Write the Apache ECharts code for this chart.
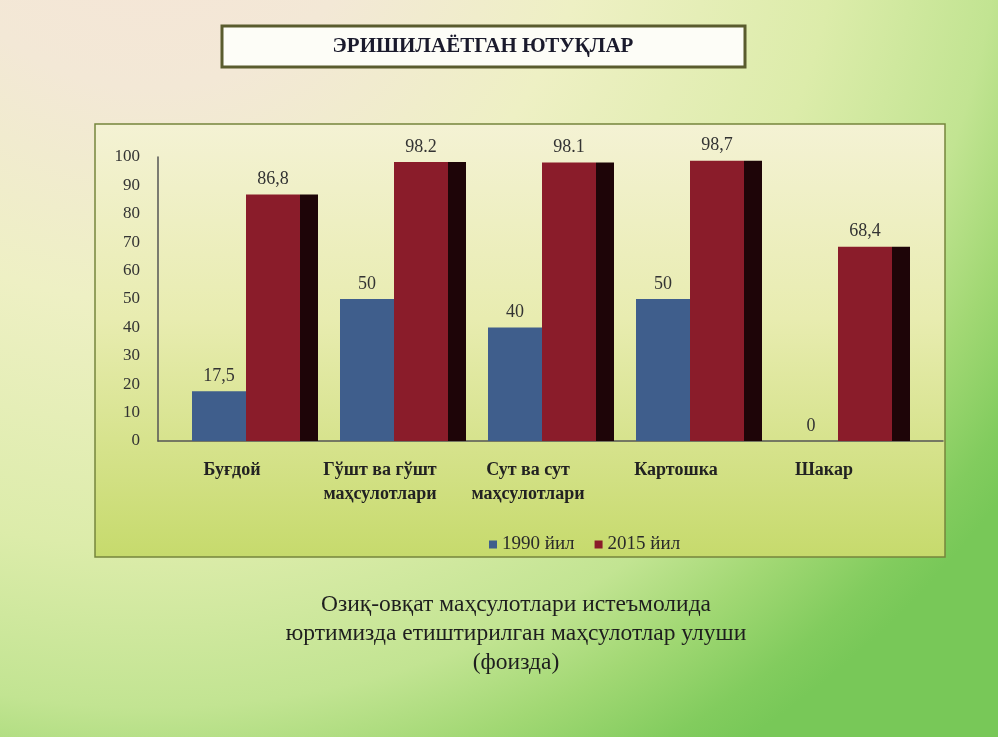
<!DOCTYPE html>
<html>
<head>
<meta charset="utf-8">
<script src="https://cdn.jsdelivr.net/npm/echarts@6/dist/echarts.min.js"></script>
<style>
html,body{margin:0;padding:0;}
#c{width:998px;height:737px;}
</style>
</head>
<body>
<div id="c"></div>
<script>
var categories = ['Буғдой', 'Гўшт ва гўшт\nмаҳсулотлари', 'Сут ва сут\nмаҳсулотлари', 'Картошка', 'Шакар'];
var values1990 = [17.5, 50, 40, 50, 0];
var values2015 = [86.8, 98.2, 98.1, 98.7, 68.4];
var labels1990 = ['17,5', '50', '40', '50', '0'];
var labels2015 = ['86,8', '98.2', '98.1', '98,7', '68,4'];
var seriesNames = ['1990 йил', '2015 йил'];
var yTicks = [0, 10, 20, 30, 40, 50, 60, 70, 80, 90, 100];
var titleText = 'ЭРИШИЛАЁТГАН ЮТУҚЛАР';
var captionText = 'Озиқ-овқат маҳсулотлари истеъмолида\nюртимизда етиштирилган маҳсулотлар улуши\n(фоизда)';

var FONT = '"Liberation Serif", "DejaVu Serif", serif';
var chart = echarts.init(document.getElementById('c'));
var yMin = yTicks[0], yMax = yTicks[yTicks.length - 1], yStep = yTicks[1] - yTicks[0];

var option = {
  backgroundColor: {
    type: 'radial', x: 0.15, y: -0.2, r: 1.45,
    colorStops: [
      {offset: 0, color: '#f6e4d8'},
      {offset: 0.22, color: '#f3e8d6'},
      {offset: 0.42, color: '#eef0c4'},
      {offset: 0.65, color: '#dcecaa'},
      {offset: 0.8, color: '#c2e492'},
      {offset: 0.88, color: '#a2d874'},
      {offset: 0.96, color: '#82cc5e'},
      {offset: 1, color: '#78c858'}
    ]
  },
  animation: false,
  graphic: [
    {
      type: 'rect', z: -10, silent: true,
      shape: {x: 95, y: 124, width: 850, height: 433},
      style: {
        fill: {type: 'linear', x: 0, y: 0, x2: 0, y2: 1, colorStops: [
          {offset: 0, color: '#f4f2d4'},
          {offset: 0.45, color: '#e8ecb0'},
          {offset: 1, color: '#c6da6c'}
        ]},
        stroke: '#75853c', lineWidth: 1.5
      }
    },
    {
      type: 'rect', silent: true,
      shape: {x: 222, y: 26, width: 523, height: 41},
      style: {fill: '#fdfdf7', stroke: '#5a5c2e', lineWidth: 3}
    },
    {
      type: 'text', silent: true, x: 483, y: 47,
      style: {text: titleText, fill: '#1a1a2c', font: 'bold 21px ' + FONT, textAlign: 'center', textVerticalAlign: 'middle'}
    },
    {
      type: 'text', silent: true, x: 516, y: 634,
      style: {text: captionText, fill: '#1e1e1e', font: '23.5px ' + FONT, lineHeight: 29, textAlign: 'center', textVerticalAlign: 'middle'}
    }
  ],
  legend: {
    left: 484, top: 530,
    itemWidth: 8, itemHeight: 8, itemGap: 20, icon: 'rect',
    textStyle: {fontFamily: FONT, fontSize: 19, color: '#2a2a2a'},
    data: [
      {name: seriesNames[0], itemStyle: {color: '#3f5e8c'}},
      {name: seriesNames[1], itemStyle: {color: '#8a1c2a'}}
    ]
  },
  grid: [
    {left: 158, right: 100, top: 157, bottom: 296},
    {left: 181, right: 77, top: 157, bottom: 296},
    {left: 158, right: 55, top: 157, bottom: 296}
  ],
  xAxis: [
    {
      type: 'category', gridIndex: 0, data: categories,
      axisLine: {show: false}, axisTick: {show: false},
      axisLabel: {margin: 17, fontFamily: FONT, fontSize: 18, fontWeight: 'bold', color: '#222', lineHeight: 24, interval: 0}
    },
    {type: 'category', gridIndex: 1, data: categories, show: false},
    {
      type: 'category', gridIndex: 2, data: categories,
      axisLine: {show: true, lineStyle: {color: '#555', width: 1.5}},
      axisTick: {show: false}, axisLabel: {show: false}
    }
  ],
  yAxis: [
    {
      type: 'value', gridIndex: 0, min: yMin, max: yMax, interval: yStep,
      axisLine: {show: true, lineStyle: {color: '#555', width: 1.5}},
      axisTick: {show: false}, splitLine: {show: false},
      axisLabel: {margin: 18, fontFamily: FONT, fontSize: 17, color: '#333'}
    },
    {type: 'value', gridIndex: 1, min: yMin, max: yMax, interval: yStep, show: false, splitLine: {show: false}},
    {type: 'value', gridIndex: 2, min: yMin, max: yMax, interval: yStep, show: false, splitLine: {show: false}}
  ],
  series: [
    {
      name: seriesNames[0], type: 'bar', xAxisIndex: 1, yAxisIndex: 1,
      data: values1990, barWidth: 54, barGap: '0%',
      itemStyle: {color: '#3f5e8c'},
      label: {
        show: true, position: 'top', distance: 6,
        fontFamily: FONT, fontSize: 18, color: '#333',
        formatter: function (p) { return labels1990[p.dataIndex]; }
      }
    },
    {
      name: seriesNames[1], type: 'bar', xAxisIndex: 1, yAxisIndex: 1,
      data: values2015, barWidth: 72, barGap: '0%',
      itemStyle: {
        color: {type: 'linear', x: 0, y: 0, x2: 1, y2: 0, colorStops: [
          {offset: 0, color: '#8a1c2a'},
          {offset: 0.75, color: '#8a1c2a'},
          {offset: 0.75, color: '#1e0508'},
          {offset: 1, color: '#1e0508'}
        ]}
      },
      label: {
        show: true, position: 'top', distance: 6, offset: [-9, 0],
        fontFamily: FONT, fontSize: 18, color: '#333',
        formatter: function (p) { return labels2015[p.dataIndex]; }
      }
    }
  ]
};
chart.setOption(option);
</script>
</body>
</html>
